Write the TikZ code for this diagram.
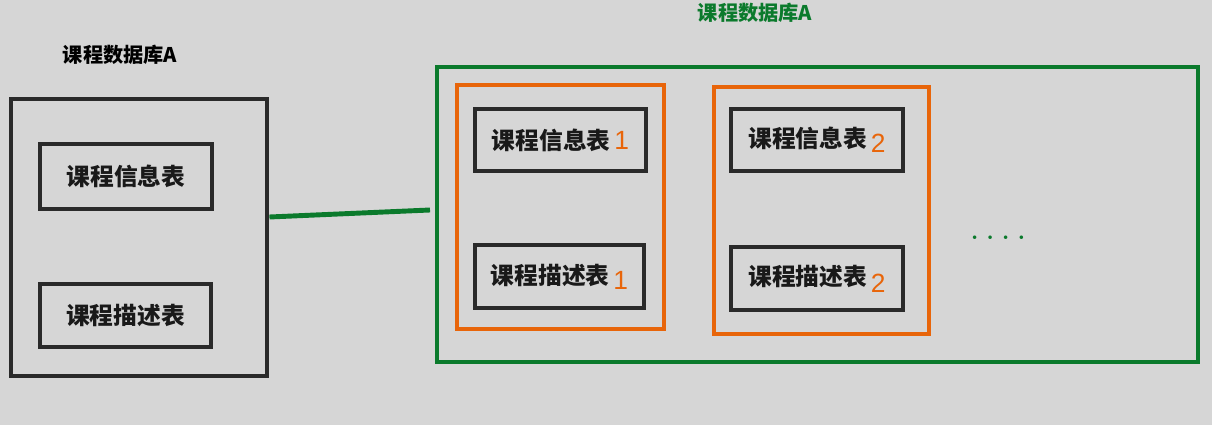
\documentclass[tikz,border=0pt]{standalone}
\usepackage{fontspec}
\newfontfamily\cjk{Noto Sans CJK SC}
\newfontfamily\numf{Liberation Sans}
\definecolor{bg}{HTML}{D6D6D6}
\definecolor{dgreen}{HTML}{0B7A2C}
\definecolor{org}{HTML}{E8650A}
\definecolor{blk}{HTML}{2A2A2A}
\newcommand{\onum}[1]{{\numf\mdseries\color{org}\fontsize{15}{17}\selectfont #1}}
\tikzset{
  tbl/.style={draw=blk, line width=2.8pt, inner sep=0pt, font=\cjk\bfseries\fontsize{13.5}{16}\selectfont, text=black!90},
  grp/.style={draw=org, line width=2.8pt, inner sep=0pt},
  db/.style={draw=blk, line width=2.8pt, inner sep=0pt},
  gdb/.style={draw=dgreen, line width=2.8pt, inner sep=0pt},
  ttl/.style={font=\cjk\bfseries\fontsize{11.5}{14}\selectfont, inner sep=0pt}
}
\begin{document}
\begin{tikzpicture}[x=0.02cm,y=-0.02cm]
\fill[bg] (0,0) rectangle (1212,425);
\useasboundingbox (0,0) rectangle (1212,425);
% left database
\node[ttl] (lt) at (120,55) {课程数据库A};
\node[db, minimum width=256*0.02cm, minimum height=277*0.02cm] (ldb) at (139,237.5) {};
\node[tbl, minimum width=172*0.02cm, minimum height=65*0.02cm] (l1) at (126,176.5) {课程信息表};
\node[tbl, minimum width=171*0.02cm, minimum height=63*0.02cm] (l2) at (125.5,315.5) {课程描述表};
% right database
\node[ttl, text=dgreen] (rt) at (755,13) {课程数据库A};
\node[gdb, minimum width=761*0.02cm, minimum height=295*0.02cm] (rdb) at (817.5,214.5) {};
\node[grp, minimum width=207*0.02cm, minimum height=244*0.02cm] (g1) at (560.5,207) {};
\node[grp, minimum width=215*0.02cm, minimum height=247*0.02cm] (g2) at (821.5,210.5) {};
\node[tbl, minimum width=171*0.02cm, minimum height=62*0.02cm] (a1) at (560.5,140) {课程信息表\,\onum{1}};
\node[tbl, minimum width=169*0.02cm, minimum height=63*0.02cm] (b1) at (559.5,276.5) {课程描述表\,\raisebox{-3pt}{\onum{1}}};
\node[tbl, minimum width=172*0.02cm, minimum height=62*0.02cm] (a2) at (817,140) {课程信息表\,\raisebox{-3pt}{\onum{2}}};
\node[tbl, minimum width=172*0.02cm, minimum height=63*0.02cm] (b2) at (817,278.5) {课程描述表\,\raisebox{-4pt}{\onum{2}}};
\node[text=dgreen, font=\bfseries\fontsize{14}{16}\selectfont, inner sep=0pt] (dots) at (998,238) {.\hspace{4.5pt}.\hspace{4.5pt}.\hspace{4.5pt}.};
% connector
\coordinate (ce) at (430,210);
\draw[dgreen, line width=2.8pt] (ldb.east |- 0,217) -- (ce);
\end{tikzpicture}
\end{document}
